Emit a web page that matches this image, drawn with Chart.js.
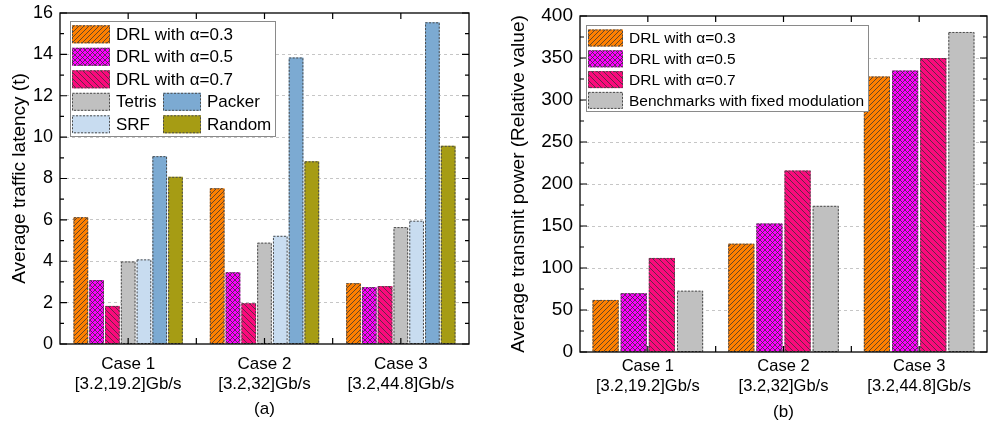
<!DOCTYPE html>
<html>
<head>
<meta charset="utf-8">
<script src="https://cdn.jsdelivr.net/npm/chart.js@4.4.1/dist/chart.umd.min.js"></script>
<style>
  body { margin: 0; background: #fff; }
  #wrap { position: relative; width: 989px; height: 422px; }
  #wrap canvas { position: absolute; top: 0; }
</style>
</head>
<body>
<div id="wrap">
  <canvas id="latency" width="490" height="422" style="left:0"></canvas>
  <canvas id="power" width="499" height="422" style="left:490px"></canvas>
</div>
<script>
var caseLabels = [["Case 1", "[3.2,19.2]Gb/s"], ["Case 2", "[3.2,32]Gb/s"], ["Case 3", "[3.2,44.8]Gb/s"]];

// (a) average traffic latency
var latencyNames = ["DRL with \u03b1=0.3", "DRL with \u03b1=0.5", "DRL with \u03b1=0.7", "Tetris", "SRF", "Packer", "Random"];
var latencyDrl03 = [6.13, 7.53, 2.94];
var latencyDrl05 = [3.09, 3.47, 2.75];
var latencyDrl07 = [1.84, 1.97, 2.8];
var latencyTetris = [3.99, 4.9, 5.65];
var latencySrf = [4.09, 5.23, 5.96];
var latencyPacker = [9.08, 13.85, 15.55];
var latencyRandom = [8.08, 8.83, 9.58];

// (b) average transmit power
var powerNames = ["DRL with \u03b1=0.3", "DRL with \u03b1=0.5", "DRL with \u03b1=0.7", "Benchmarks with fixed modulation"];
var powerDrl03 = [62, 129, 328];
var powerDrl05 = [70, 153, 335];
var powerDrl07 = [112, 216, 350];
var powerFixed = [73, 174, 381];

var FONT = "'Liberation Sans', Arial, sans-serif";

function hatch(bg, kind, gap) {
  var c = document.createElement("canvas");
  c.width = gap; c.height = gap;
  var g = c.getContext("2d");
  g.fillStyle = bg;
  g.fillRect(0, 0, gap, gap);
  g.strokeStyle = "#333";
  g.lineWidth = 0.75;
  g.beginPath();
  if (kind == "/" || kind == "x") {
    g.moveTo(0, gap); g.lineTo(gap, 0);
    g.moveTo(-gap / 2, gap / 2); g.lineTo(gap / 2, -gap / 2);
    g.moveTo(gap / 2, gap * 1.5); g.lineTo(gap * 1.5, gap / 2);
  }
  if (kind == "\\" || kind == "x") {
    g.moveTo(0, 0); g.lineTo(gap, gap);
    g.moveTo(-gap / 2, gap / 2); g.lineTo(gap / 2, gap * 1.5);
    g.moveTo(gap / 2, -gap / 2); g.lineTo(gap * 1.5, gap / 2);
  }
  g.stroke();
  return g.createPattern(c, "repeat");
}

var orangeHatch = hatch("#ff8000", "/", 5);
var magentaHatch = hatch("#ff00ff", "x", 5);
var crimsonHatch = hatch("#fa0a7c", "\\", 6);

// frame, inward ticks, dashed bar outlines and the boxed legend
var panelPlugin = {
  id: "panel",
  afterDraw: function (chart) {
    var o = chart.options.plugins.panel;
    var ctx = chart.ctx, a = chart.chartArea;
    var xs = chart.scales.x, ys = chart.scales.y;
    ctx.save();

    ctx.strokeStyle = "#4a4a4a";
    ctx.lineWidth = 1;
    ctx.setLineDash([2, 1.5]);
    chart.data.datasets.forEach(function (ds, i) {
      chart.getDatasetMeta(i).data.forEach(function (el) {
        var p = el.getProps(["x", "y", "base", "width"], true);
        ctx.strokeRect(p.x - p.width / 2 + 0.5, p.y + 0.5, p.width - 1, p.base - p.y - 0.5);
      });
    });
    ctx.setLineDash([]);

    ctx.strokeStyle = "#000";
    ctx.lineWidth = 1.3;
    ctx.strokeRect(a.left, a.top, a.right - a.left, a.bottom - a.top);

    ctx.lineWidth = 1.2;
    ctx.beginPath();
    for (var v = ys.min; v <= ys.max + 1e-9; v += o.minor) {
      var py = ys.getPixelForValue(v);
      var len = Math.abs(v / o.major - Math.round(v / o.major)) < 1e-6 ? 7 : 4;
      ctx.moveTo(a.left, py); ctx.lineTo(a.left + len, py);
      ctx.moveTo(a.right, py); ctx.lineTo(a.right - len, py);
    }
    for (var k = 0; k <= 2 * (caseLabels.length - 1); k++) {
      var px = xs.getPixelForValue(k / 2);
      ctx.moveTo(px, a.bottom); ctx.lineTo(px, a.bottom - 6);
      ctx.moveTo(px, a.top); ctx.lineTo(px, a.top + 6);
    }
    ctx.stroke();

    var L = o.legend;
    ctx.fillStyle = "#fff";
    ctx.fillRect(L.box[0], L.box[1], L.box[2], L.box[3]);
    ctx.strokeStyle = "#8a8a8a";
    ctx.lineWidth = 1;
    ctx.strokeRect(L.box[0] + 0.5, L.box[1] + 0.5, L.box[2], L.box[3]);
    ctx.font = L.size + "px " + FONT;
    ctx.textBaseline = "middle";
    L.items.forEach(function (it) {
      var ds = chart.data.datasets[it[0]];
      var sx = L.cols[it[1]], cy = L.top + it[2] * L.rowH;
      var sy = cy - L.swH / 2;
      ctx.fillStyle = ds.backgroundColor;
      ctx.fillRect(sx, sy, L.swW, L.swH);
      ctx.strokeStyle = "#4a4a4a";
      ctx.setLineDash([2, 1.5]);
      ctx.strokeRect(sx + 0.5, sy + 0.5, L.swW - 1, L.swH - 1);
      ctx.setLineDash([]);
      ctx.fillStyle = "#000";
      ctx.fillText(ds.label, sx + L.swW + 6, cy + 1);
    });
    ctx.restore();
  }
};

function gridColor(max) {
  return function (c) {
    if (c.tick && (c.tick.value === 0 || c.tick.value === max)) return "rgba(0,0,0,0)";
    return "#c6c6c6";
  };
}

function noPad(s) {
  s.paddingTop = 0; s.paddingBottom = 0; s.paddingLeft = 0; s.paddingRight = 0;
}

function buildOptions(cfg) {
  return {
    responsive: false,
    animation: false,
    layout: { padding: { left: 0, right: cfg.padRight, top: cfg.padTop, bottom: 0 } },
    plugins: {
      legend: { display: false },
      tooltip: { enabled: false },
      panel: { major: cfg.step, minor: cfg.step / 2, legend: cfg.legend }
    },
    scales: {
      x: {
        grid: { display: false, drawTicks: false },
        border: { display: false },
        ticks: { color: "#000", font: { family: FONT, size: cfg.xSize }, padding: cfg.xPad, maxRotation: 0, autoSkip: false },
        title: { display: true, text: cfg.xTitle, color: "#000", font: { family: FONT, size: 17 }, padding: { top: 0, bottom: cfg.xTitlePad } },
        afterFit: function (s) { s.height = cfg.xHeight; noPad(s); }
      },
      y: {
        min: 0,
        max: cfg.max,
        grid: { color: gridColor(cfg.max), drawTicks: false, lineWidth: 1 },
        border: { display: false, dash: [3, 3] },
        ticks: { stepSize: cfg.step, color: "#000", font: { family: FONT, size: cfg.ySize }, padding: 7 },
        title: { display: true, text: cfg.yTitle, color: "#000", font: { family: FONT, size: 19 }, padding: { top: cfg.yTitlePad, bottom: 0 } },
        afterFit: function (s) { s.width = cfg.yWidth; noPad(s); }
      }
    }
  };
}

function bars(label, data, fill, cat, bar) {
  return { label: label, data: data, backgroundColor: fill, borderWidth: 0, categoryPercentage: cat, barPercentage: bar };
}

new Chart(document.getElementById("latency"), {
  type: "bar",
  data: {
    labels: caseLabels,
    datasets: [
      bars(latencyNames[0], latencyDrl03, orangeHatch, 0.81, 0.93),
      bars(latencyNames[1], latencyDrl05, magentaHatch, 0.81, 0.93),
      bars(latencyNames[2], latencyDrl07, crimsonHatch, 0.81, 0.93),
      bars(latencyNames[3], latencyTetris, "#c0c0c0", 0.81, 0.93),
      bars(latencyNames[4], latencySrf, "#c8dcf0", 0.81, 0.93),
      bars(latencyNames[5], latencyPacker, "#7caad2", 0.81, 0.93),
      bars(latencyNames[6], latencyRandom, "#a69c14", 0.81, 0.93)
    ]
  },
  options: buildOptions({
    padRight: 21, padTop: 13, yWidth: 60, xHeight: 78,
    max: 16, step: 2, xSize: 17, ySize: 18, xPad: 10, xTitle: "(a)", xTitlePad: 2,
    yTitle: "Average traffic latency (t)", yTitlePad: 8.6,
    legend: {
      box: [70, 21, 205, 115], cols: [72, 163], top: 34.3, rowH: 22.5, swW: 38, swH: 18, size: 17,
      items: [[0, 0, 0], [1, 0, 1], [2, 0, 2], [3, 0, 3], [5, 1, 3], [4, 0, 4], [6, 1, 4]]
    }
  }),
  plugins: [panelPlugin]
});

new Chart(document.getElementById("power"), {
  type: "bar",
  data: {
    labels: caseLabels,
    datasets: [
      bars(powerNames[0], powerDrl03, orangeHatch, 0.83, 0.93),
      bars(powerNames[1], powerDrl05, magentaHatch, 0.83, 0.93),
      bars(powerNames[2], powerDrl07, crimsonHatch, 0.83, 0.93),
      bars(powerNames[3], powerFixed, "#c0c0c0", 0.83, 0.93)
    ]
  },
  options: buildOptions({
    padRight: 2, padTop: 16, yWidth: 90, xHeight: 70,
    max: 400, step: 50, xSize: 16.5, ySize: 19, xPad: 5, xTitle: "(b)", xTitlePad: -1,
    yTitle: "Average transmit power (Relative value)", yTitlePad: 17.6,
    legend: {
      box: [96, 25, 282, 86], cols: [98], top: 38, rowH: 20.8, swW: 35, swH: 17, size: 15.5,
      items: [[0, 0, 0], [1, 0, 1], [2, 0, 2], [3, 0, 3]]
    }
  }),
  plugins: [panelPlugin]
});
</script>
</body>
</html>
